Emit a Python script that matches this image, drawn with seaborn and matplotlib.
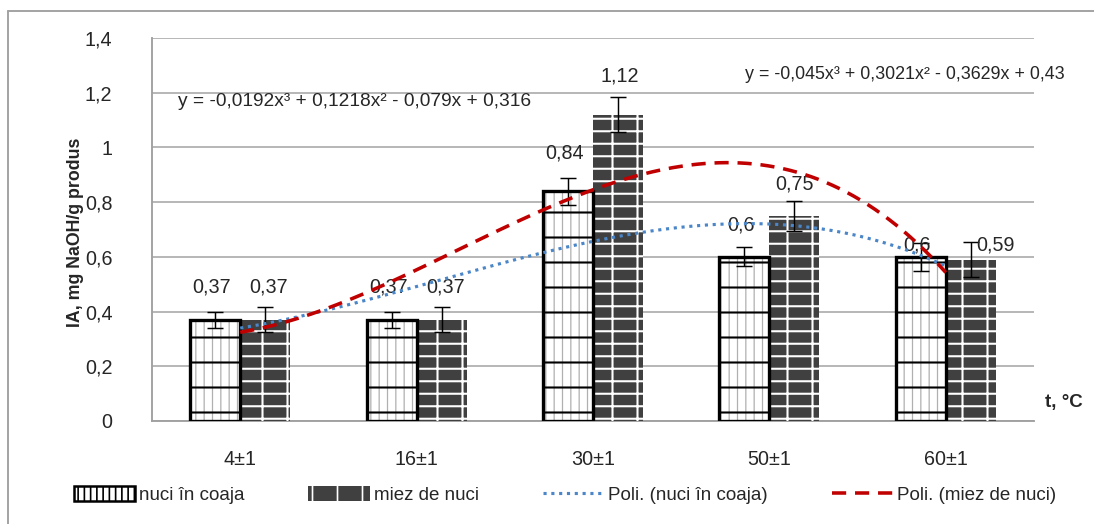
import numpy as np
import pandas as pd
import matplotlib
matplotlib.use("Agg")
import matplotlib.pyplot as plt
import seaborn as sns
from matplotlib import font_manager
from matplotlib.patches import Patch, Rectangle
from matplotlib.lines import Line2D

# date
temperaturi = ["4±1", "16±1", "30±1", "50±1", "60±1"]
nuci_coaja = [0.37, 0.37, 0.84, 0.60, 0.60]
miez_nuci = [0.37, 0.37, 1.12, 0.75, 0.59]
err_coaja = [0.03, 0.03, 0.05, 0.035, 0.05]
err_miez = [0.045, 0.045, 0.065, 0.055, 0.065]
etichete_coaja = ["0,37", "0,37", "0,84", "0,6", "0,6"]
etichete_miez = ["0,37", "0,37", "1,12", "0,75", "0,59"]
# coeficientii trendului polinomial (grad 3), x = 1..5
poli_coaja = [-0.0192, 0.1218, -0.079, 0.316]
poli_miez = [-0.045, 0.3021, -0.3629, 0.43]
ec_coaja = "y = -0,0192x³ + 0,1218x² - 0,079x + 0,316"
ec_miez = "y = -0,045x³ + 0,3021x² - 0,3629x + 0,43"

sns.set_style("white")
installed = {f.name for f in font_manager.fontManager.ttflist}
narrow = "Liberation Sans Narrow" if "Liberation Sans Narrow" in installed else "Liberation Sans"
plt.rcParams["font.family"] = ["Liberation Sans", "DejaVu Sans"]
plt.rcParams["hatch.linewidth"] = 0.8

df = pd.DataFrame({
    "t": temperaturi * 2,
    "IA": nuci_coaja + miez_nuci,
    "proba": ["nuci în coaja"] * 5 + ["miez de nuci"] * 5,
})

fig = plt.figure(figsize=(1094 / 150, 524 / 150), dpi=150)
ax = fig.add_axes([152 / 1094, 1 - 421 / 524, (1034 - 152) / 1094, (421 - 38) / 524])

sns.barplot(data=df, x="t", y="IA", hue="proba", palette=["white", "#404040"],
            width=0.567, errorbar=None, legend=False, ax=ax, zorder=3)

bars_c, bars_m = ax.containers[0], ax.containers[1]


def set_hlw(p, w):
    if hasattr(p, "set_hatch_linewidth"):
        p.set_hatch_linewidth(w)


for b in bars_c:
    b.set_facecolor("white")
    b.set_edgecolor("#b0b0b0")
    b.set_hatch("|||")
    b.set_linewidth(0)
    set_hlw(b, 0.6)
    x0, y0, w, h = b.get_x(), b.get_y(), b.get_width(), b.get_height()
    r = Rectangle((x0, y0), w, h, fill=False, edgecolor="black", hatch="-",
                  linewidth=0, zorder=3.1)
    set_hlw(r, 1.0)
    ax.add_patch(r)
    ax.add_patch(Rectangle((x0, y0), w, h, fill=False, edgecolor="black",
                           linewidth=1.6, zorder=3.2))

for b in bars_m:
    b.set_facecolor("#404040")
    b.set_edgecolor("white")
    b.set_hatch("+-")
    b.set_linewidth(0)
    set_hlw(b, 1.0)

xc = [b.get_x() + b.get_width() / 2 for b in bars_c]
xm = [b.get_x() + b.get_width() / 2 for b in bars_m]
ax.errorbar(xc, nuci_coaja, yerr=err_coaja, fmt="none", ecolor="black",
            elinewidth=0.7, capsize=4, capthick=0.7, zorder=4)
ax.errorbar(xm, miez_nuci, yerr=err_miez, fmt="none", ecolor="black",
            elinewidth=0.7, capsize=4, capthick=0.7, zorder=4)

# etichete valori
dy_c = [0.118, 0.118, 0.14, 0.115, 0.042]
dy_m = [0.118, 0.118, 0.14, 0.118, 0.052]
dx_m = [0.02, 0.02, 0.01, 0.0, 0.14]
for i in range(5):
    ax.text(xc[i] - 0.02, nuci_coaja[i] + dy_c[i], etichete_coaja[i],
            ha="center", va="center", fontsize=9.5, zorder=5)
    ax.text(xm[i] + dx_m[i], miez_nuci[i] + dy_m[i], etichete_miez[i],
            ha="center", va="center", fontsize=9.5, zorder=5)

# trend polinomial
xs = np.linspace(1, 5, 200)
ax.plot(xs - 1, np.polyval(poli_coaja, xs), color="#4a86c8", linestyle=(0, (1, 1.5)),
        linewidth=1.5, zorder=6)
ax.plot(xs - 1, np.polyval(poli_miez, xs), color="#c00000", linestyle=(0, (4, 2.5)),
        linewidth=1.7, zorder=6)

ax.text(-0.35, 1.167, ec_coaja, fontsize=9.2, va="center", ha="left", zorder=6)
ax.text(2.86, 1.265, ec_miez, fontsize=8.6, va="center", ha="left", zorder=6,
        clip_on=False)

ax.set_xlim(-0.5, 4.5)
ax.set_ylim(0, 1.4)
ax.set_yticks(np.arange(0, 1.41, 0.2))
ax.set_yticklabels(["0", "0,2", "0,4", "0,6", "0,8", "1", "1,2", "1,4"])
ax.set_xticks(range(5))
ax.set_xticklabels(temperaturi)
ax.set_xticks(np.arange(-0.5, 4.6, 1), minor=True)
ax.tick_params(axis="x", which="major", length=0, pad=14, labelsize=9.5)
ax.tick_params(axis="x", which="minor", length=5, color="#a0a0a0", width=0.8, direction="out")
ax.tick_params(axis="y", length=5, color="#a0a0a0", width=0.8, labelsize=9.5, pad=14,
               direction="out")
ax.yaxis.grid(True, color="#b4b4b4", linewidth=0.9, zorder=0)
ax.set_axisbelow(True)
for s in ["top", "right"]:
    ax.spines[s].set_visible(False)
for s in ["left", "bottom"]:
    ax.spines[s].set_color("#a0a0a0")
    ax.spines[s].set_linewidth(0.9)
ax.set_xlabel("")
ax.set_ylabel("")

fig.text(76 / 1094, 1 - 232 / 524, "IA, mg NaOH/g produs", rotation=90,
         ha="center", va="center", fontsize=8.5, fontweight="bold", family=[narrow, "DejaVu Sans"])
fig.text(1045 / 1094, 1 - 403 / 524, "t, °C", ha="left", va="center",
         fontsize=9, fontweight="bold")

# chenar exterior
fig.add_artist(Line2D([8 / 1094, 8 / 1094], [0, 1 - 11 / 524], color="#a0a0a0",
                      linewidth=0.9, transform=fig.transFigure))
fig.add_artist(Line2D([8 / 1094, 1], [1 - 11 / 524, 1 - 11 / 524], color="#a0a0a0",
                      linewidth=0.9, transform=fig.transFigure))

handles = [
    Patch(facecolor="white", edgecolor="black", hatch="||||", linewidth=1.2),
    Patch(facecolor="#404040", edgecolor="white", hatch="|", linewidth=0),
    Line2D([0], [0], color="#4a86c8", linestyle=(0, (1, 1.5)), linewidth=1.5),
    Line2D([0], [0], color="#c00000", linestyle=(0, (4, 2.5)), linewidth=1.7),
]
labels = ["nuci în coaja", "miez de nuci", "Poli. (nuci în coaja)", "Poli. (miez de nuci)"]
fig.legend(handles, labels, loc="center", bbox_to_anchor=(565 / 1094, 1 - 495 / 524),
           ncol=4, frameon=False, handlelength=3.3, handleheight=0.8, handletextpad=0.2,
           columnspacing=3.4, prop={"family": [narrow, "DejaVu Sans"], "size": 9})

fig.savefig("out.png", dpi=150)
